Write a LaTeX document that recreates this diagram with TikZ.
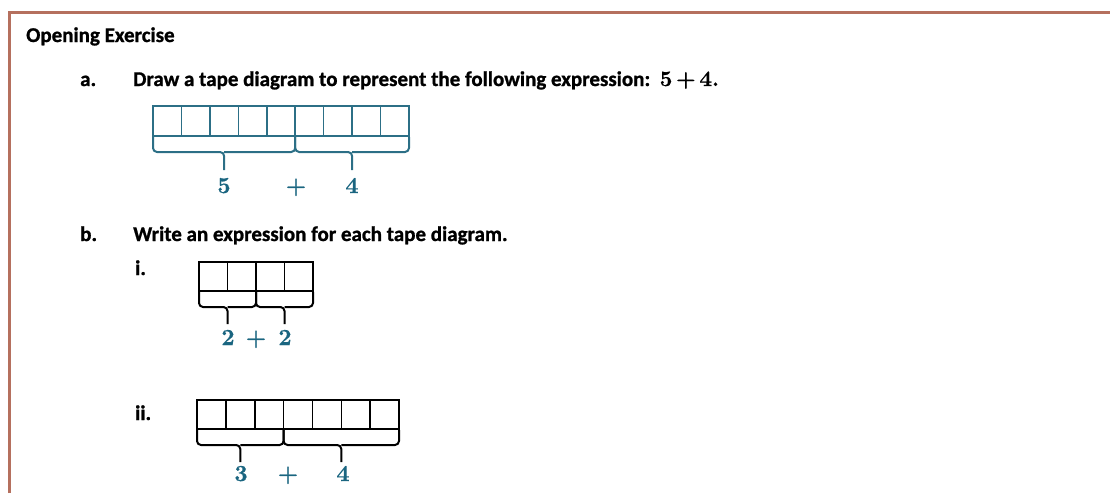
\documentclass[tikz,border=0pt]{standalone}
\usepackage{fontspec}
\setmainfont{Carlito}[BoldFont={Carlito Bold}, BoldFeatures={FakeBold=1}]
\newfontfamily\numfont{lmroman10-bold.otf}[FakeBold=0.6]
\definecolor{framec}{HTML}{B5705E}
\definecolor{tealc}{HTML}{1A6580}
\definecolor{tapec}{HTML}{2C6F86}
\tikzset{
  txt/.style={anchor=base west, inner sep=0pt, font=\bfseries\fontsize{21}{24}\selectfont},
  num/.style={anchor=base, inner sep=0pt, text=tealc, font=\numfont\fontsize{23}{25}\selectfont},
  cell/.style={line width=1.6pt},
  brc/.style={line width=2pt, rounded corners=4pt}
}
% \tapebrace{x1}{x2}{ytop}{ybar}{ytip}
\newcommand{\tapebrace}[5]{%
  \draw (#1,#3) -- (#1,#4) -- ({(#1+#2)/2},#4) -- ({(#1+#2)/2},#5);
  \draw (#2,#3) -- (#2,#4) -- ({(#1+#2)/2},#4);
}
\begin{document}
\begin{tikzpicture}[x=1pt,y=-1pt]
\useasboundingbox (0,0) rectangle (1110,493);
% frame
\draw[framec, line width=3pt] (9,493) -- (9,12) -- (1110,12);
% texts
\node[txt] (title) at (26,42) {Opening Exercise};
\node[txt] (la) at (80,86) {a.};
\node[txt] (qa) at (133,86) {Draw a tape diagram to represent the following expression:\ \ {\numfont\fontsize{22}{24}\selectfont 5\,+\,4.}};
\node[txt] (lb) at (80,241) {b.};
\node[txt] (qb) at (133,241) {Write an expression for each tape diagram.};
\node[txt] (li) at (135,275) {i.};
\node[txt] (lii) at (135,420) {ii.};
% tape a
\begin{scope}[draw=tapec, cell]
\foreach \i in {0,...,8} \draw ({153+28.44*\i},106) rectangle ({153+28.44*(\i+1)},136);
\end{scope}
\begin{scope}[draw=tapec, brc]
\tapebrace{153}{295.2}{137}{152}{170}
\tapebrace{295.2}{409}{137}{152}{170}
\end{scope}
\node[num] (a5) at (224,193) {5};
\node[num] (ap) at (296,193) {+};
\node[num] (a4) at (352,193) {4};
% tape b.i
\begin{scope}[draw=black, cell]
\foreach \i in {0,...,3} \draw ({199+28.5*\i},262) rectangle ({199+28.5*(\i+1)},291);
\end{scope}
\begin{scope}[draw=black, brc]
\tapebrace{199}{256}{292}{307}{324}
\tapebrace{256}{313}{292}{307}{324}
\end{scope}
\node[num] (b2a) at (228,345) {2};
\node[num] (bp) at (256,345) {+};
\node[num] (b2b) at (285,345) {2};
% tape b.ii
\begin{scope}[draw=black, cell]
\foreach \i in {0,...,6} \draw ({197+28.86*\i},400) rectangle ({197+28.86*(\i+1)},429);
\end{scope}
\begin{scope}[draw=black, brc]
\tapebrace{197}{283.6}{430}{445}{462}
\tapebrace{283.6}{399}{430}{445}{462}
\end{scope}
\node[num] (c3) at (241,481) {3};
\node[num] (cp) at (288,481) {+};
\node[num] (c4) at (343,481) {4};
\end{tikzpicture}
\end{document}
